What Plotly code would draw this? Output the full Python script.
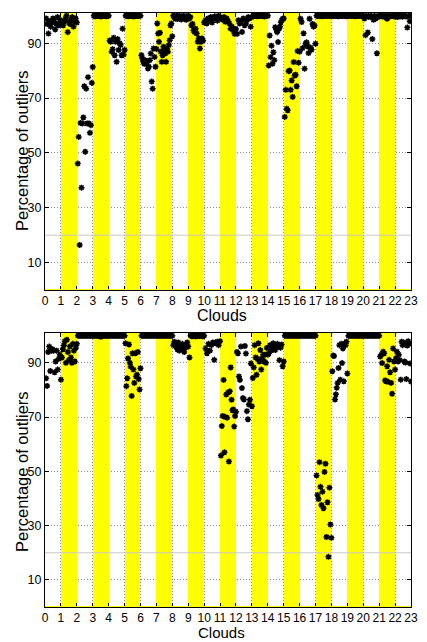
import plotly.graph_objects as go

# Cloud indices on the x axis and the clouds that get a highlighted band
clouds = list(range(23))
band_clouds = [1, 3, 5, 7, 9, 11, 13, 15, 17, 19, 21]
x_ticks = list(range(24))
y_ticks = [10, 30, 50, 70, 90]
y_top = 101
reference_level = 20

# Percentage of outliers per frame, one list per cloud (upper panel)
upper_frames = [
    [99, 97, 93.5, 98, 96, 97.5, 99, 98, 95, 97, 99.5, 96.5, 98.5, 97],
    [97, 96.5, 98, 99, 100, 94, 97.5, 97, 98.5, 99.5, 96, 98, 99, 97.5],
    [46.1, 55.8, 16.4, 60.9, 37.3, 60.7, 62.9, 74.3, 50.4, 73.4, 60.7, 77.6, 60.7, 57.3, 60.1, 75.5, 81.3],
    [100, 99.8, 100, 99.9, 100, 100, 99.7, 100, 99.9, 100, 100, 99.8, 100, 100],
    [91, 90.5, 86.9, 87.8, 92, 85.6, 90.5, 83.2, 91.5, 87.5, 90, 89.3, 85.6, 95.3, 85.8, 87.5],
    [100, 100, 99.8, 100, 99.9, 100, 100, 99.7, 100, 100, 99.9, 100, 100, 100],
    [85.6, 84.4, 83.2, 82.5, 83.8, 82.6, 83, 80.8, 81.4, 83.8, 86.2, 76, 73.4, 88.1, 85, 81.4, 87.9],
    [97.2, 93.5, 90.5, 93.8, 86.9, 83.2, 85.6, 88.7, 87.5, 86.2, 83.2, 88, 86.9, 89.3, 91.1, 96.5, 97.2, 92.5],
    [100, 99.5, 99, 100, 98.8, 99.6, 100, 99.2, 98.6, 99.5, 100, 99, 99.7, 98.5, 99.3, 100],
    [99, 99.5, 96.5, 97, 94.7, 94, 95.3, 93.5, 90.5, 91.7, 88.1, 90.5, 91.7, 91, 97.5],
    [98.4, 97.2, 99, 98.5, 99.5, 97.5, 99, 99.8, 99.3, 98.2, 100, 99.5],
    [99, 98.5, 99.5, 97.8, 99, 98, 97.2, 95.3, 96, 94.7, 93.4, 95.2],
    [93.4, 98.4, 97.2, 97.8, 94.1, 99, 96.5, 97.2, 98.4, 99.5, 99, 96, 99.5],
    [100, 99.9, 100, 100, 99.8, 100, 100, 99.9, 100, 100, 99.7, 100, 100, 100],
    [81.9, 92.8, 84.9, 89.1, 82.5, 86.7, 83.8, 95.8, 95, 94, 90.4, 95.2, 96, 97.6, 98.4, 98.9, 99],
    [63.1, 73, 66.1, 65.5, 79.8, 80, 73, 76.4, 70.4, 83.1, 78.2, 78.5, 74.3, 87.1, 82.9, 86.9],
    [98.9, 97.7, 88.2, 93.6, 80.7, 89.8, 90.3, 88.8, 86.4, 98.9, 88.4, 87.6, 97, 96, 96.4, 89.8],
    [100, 100, 99.9, 100, 100, 99.8, 100, 100, 100, 99.9, 100, 100, 100, 100],
    [100, 99.9, 100, 100, 100, 99.8, 100, 100, 99.9, 100, 100, 100, 99.8, 100],
    [100, 100, 100, 99.9, 100, 100, 99.8, 100, 100, 100, 99.9, 100, 100, 100],
    [99, 92.9, 100, 93.9, 99.5, 100, 99.8, 91.5, 98.5, 100, 99, 86.3, 99.5, 100],
    [100, 99.8, 100, 99.5, 100, 98.9, 100, 99.7, 100, 99.9, 100, 99.6],
    [100, 99.5, 100, 99.8, 100, 99.6, 100, 100, 99.7, 95.7, 100, 98, 100],
]

# Percentage of outliers per frame, one list per cloud (lower panel)
lower_frames = [
    [84.3, 81.5, 94, 96, 87, 94.5, 95, 94.5, 86.5, 90.5, 94.5, 87.5, 91.5, 93, 83.8],
    [92, 95, 96.5, 98, 90, 98.5, 94, 91, 96, 92, 90, 97, 94.5, 90.5, 95.5, 97],
    [100, 100, 100, 100, 100, 100, 100, 100, 100, 100, 100, 100, 100, 100],
    [100, 100, 100, 100, 100, 100, 99.6, 100, 100, 100, 100, 100, 100, 100],
    [100, 100, 100, 100, 100, 100, 100, 100, 100, 100, 100, 100, 100, 100],
    [97.2, 81.4, 84.3, 91.6, 96.8, 90, 88.6, 77.8, 93.5, 87.5, 82.6, 93.5, 85, 85.6, 94, 84, 80.2, 88],
    [100, 100, 100, 100, 100, 100, 100, 100, 100, 100, 100, 100, 100, 100],
    [100, 100, 100, 100, 100, 100, 100, 100, 100, 100, 100, 100, 100, 100],
    [96.5, 97.8, 97, 96, 95, 97.5, 94.5, 96.5, 95.2, 97, 96, 94, 95.5, 96.5, 97.5, 96],
    [92, 100, 99.8, 100, 100, 99.7, 100, 100, 99.9, 100, 100, 99.8, 100],
    [95.3, 93.5, 97, 94.5, 96.5, 97.5, 91.1, 97.2, 97.8, 96.5, 98],
    [55.8, 66.7, 70.4, 83.7, 57, 70, 78.3, 69.8, 79, 53.6, 79.5, 88.3, 76.4, 72.5, 72.8, 66.5, 70.4, 72],
    [94, 93.5, 85, 83.7, 96, 80.7, 77, 76.5, 96.2, 93.4, 72.2, 69.2, 74.6, 76.4, 89.8, 74],
    [84.4, 88.3, 96.5, 92, 85.6, 91.5, 97.2, 90.5, 94.7, 87.5, 91.5, 93, 90.5, 93, 90, 95.5, 93],
    [93.5, 96.5, 94.5, 95.8, 97.2, 96, 94.7, 96.5, 97, 96, 91, 95.6, 96.8, 88.7, 90.5],
    [100, 100, 100, 100, 100, 100, 100, 100, 100, 100, 100, 100, 100, 100],
    [100, 100, 100, 100, 100, 100, 100, 100, 100, 100, 100, 100, 100, 100],
    [48.5, 41.3, 39.8, 53.4, 44.3, 37.6, 42.5, 36.4, 49.8, 52.8, 25.8, 38.6, 18.5, 44, 30.4, 25.5],
    [86.9, 92.7, 92.5, 76.5, 78.4, 80.8, 82.6, 88.1, 96.5, 83.8, 97, 89.9, 95.3, 83.2, 97.2, 96.5, 97.8, 86.1],
    [100, 100, 100, 100, 100, 100, 100, 100, 100, 100, 100, 100, 100, 100],
    [100, 100, 100, 100, 100, 100, 100, 100, 100, 100, 100, 100, 100, 100],
    [92.3, 92.9, 89.9, 94.1, 93.5, 83.5, 83.2, 88.7, 83, 91.1, 86.5, 82.6, 78.6, 95.3, 90.5, 87.5],
    [91.7, 94.1, 90.5, 93, 91, 83.8, 97.8, 96.5, 97.5, 90.5, 90.1, 84, 96.4, 98, 97, 89.8, 83.1],
]

FONT = "Liberation Sans, Arial, Helvetica, sans-serif"
W, H = 427, 642
ML, MR, MT, MB = 45, 9, 13, 35
plot_w = W - ML - MR
plot_h = H - MT - MB


def spread(frames):
    """Place each cloud's frames one after another inside its unit interval."""
    xs, ys = [], []
    for cloud, vals in zip(clouds, frames):
        n = len(vals)
        for i, v in enumerate(vals):
            xs.append(cloud + (i + 1) / n)
            ys.append(v)
    return xs, ys


fig = go.Figure()
for frames, xa, ya in [(upper_frames, "x", "y"), (lower_frames, "x2", "y2")]:
    # yellow bands behind the highlighted clouds
    fig.add_trace(go.Bar(
        x=[b + 0.5 for b in band_clouds], y=[y_top] * len(band_clouds), width=1,
        marker=dict(color="#ffff00", line=dict(width=0)), xaxis=xa, yaxis=ya,
        showlegend=False, hoverinfo="skip",
    ))
    xs, ys = spread(frames)
    fig.add_trace(go.Scatter(
        x=xs, y=ys, mode="markers", xaxis=xa, yaxis=ya, showlegend=False,
        marker=dict(symbol="asterisk-open", size=5, color="black",
                    line=dict(color="black", width=1.5)),
    ))

shapes = []
for xr, yr in [("x", "y"), ("x2", "y2")]:
    shapes.append(dict(type="line", xref=f"{xr} domain", yref=yr, x0=0, x1=1,
                       y0=reference_level, y1=reference_level,
                       line=dict(color="#c8c8c8", width=1), layer="above"))
    shapes.append(dict(type="line", xref=f"{xr} domain", yref=yr, x0=0, x1=1,
                       y0=0, y1=0, line=dict(color="#ffff00", width=2), layer="above"))

GRID = dict(showgrid=True, gridcolor="#8c8c8c", griddash="1px,2px", gridwidth=1)

xaxis_style = dict(
    range=[0, 23], tickvals=x_ticks, ticktext=[str(t) for t in x_ticks], tickangle=0,
    showline=True, linecolor="black", linewidth=1, mirror="ticks",
    ticks="inside", ticklen=4, tickcolor="black",
    tickfont=dict(family=FONT, size=12, color="black"), zeroline=False, **GRID,
)
yaxis_style = dict(
    range=[0, y_top], tickvals=y_ticks, ticktext=[str(t) for t in y_ticks],
    showline=True, linecolor="black", linewidth=1, mirror="ticks",
    ticks="inside", ticklen=4, tickcolor="black",
    tickfont=dict(family=FONT, size=12.5, color="black"), zeroline=False, **GRID,
)

# panel edges in page pixels
top_panel_bottom = 290
low_panel_top = 333
top_lo = (H - MB - top_panel_bottom) / plot_h
bot_hi = (H - MB - low_panel_top) / plot_h

annotations = [
    dict(text="Clouds", xref="paper", yref="paper",
         x=(225 - ML) / plot_w, y=(H - MB - 315.5) / plot_h,
         xanchor="center", yanchor="middle", showarrow=False,
         font=dict(family=FONT, size=16, color="black")),
    dict(text="Clouds", xref="paper", yref="paper",
         x=(225 - ML) / plot_w, y=(H - MB - 643) / plot_h,
         xanchor="center", yanchor="bottom", showarrow=False,
         font=dict(family=FONT, size=15, color="black")),
]
for cy in [150.5, 471.5]:
    annotations.append(dict(text="Percentage of outliers", xref="paper", yref="paper",
                            x=(21 - ML) / plot_w, y=(H - MB - cy) / plot_h,
                            xanchor="center", yanchor="middle", textangle=-90,
                            showarrow=False,
                            font=dict(family=FONT, size=16.5, color="black")))

fig.update_layout(
    width=W, height=H, autosize=False,
    margin=dict(l=ML, r=MR, t=MT, b=MB),
    paper_bgcolor="white", plot_bgcolor="white", bargap=0,
    xaxis=dict(domain=[0, 1], anchor="y", **xaxis_style),
    yaxis=dict(domain=[top_lo, 1], anchor="x", **yaxis_style),
    xaxis2=dict(domain=[0, 1], anchor="y2", **xaxis_style),
    yaxis2=dict(domain=[0, bot_hi], anchor="x2", **yaxis_style),
    shapes=shapes, annotations=annotations,
    font=dict(family=FONT, color="black"),
)

fig.write_html("out.html")
